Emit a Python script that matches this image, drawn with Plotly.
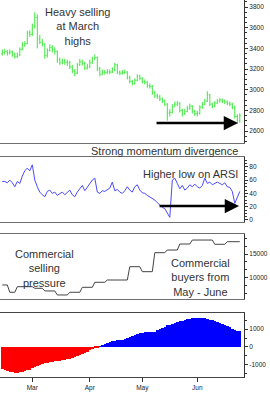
import pandas as pd
import plotly.graph_objects as go

# ---------------- data ----------------
dates = pd.bdate_range("2011-02-11", "2011-06-24")
month_labels = ["Mar", "Apr", "May", "Jun"]
month_starts = ["2011-03-01", "2011-04-01", "2011-05-02", "2011-06-01"]

price_open = [3350,3360,3370,3355,3365,3345,3320,3335,3390,3430,3445,3550,3535,3610,3700,3490,3460,3440,3330,3380,
              3410,3390,3370,3290,3260,3275,3265,3260,3220,3180,3160,3240,3270,3255,3210,3220,3260,3300,3310,3200,
              3150,3170,3165,3175,3170,3190,3240,3170,3160,3165,3170,3120,3080,3060,3090,3130,3110,3080,3070,3040,
              3030,2970,2940,2930,2910,2890,2860,2770,2780,2840,2860,2870,2800,2770,2790,2820,2840,2790,2770,2770,
              2830,2860,2890,2950,2860,2840,2870,2890,2900,2890,2880,2870,2860,2830,2740,2700]
price_high = [3390,3395,3385,3390,3380,3360,3360,3410,3460,3470,3570,3575,3640,3750,3730,3530,3490,3450,3400,3440,
              3430,3410,3380,3310,3300,3300,3290,3280,3240,3200,3260,3300,3290,3270,3250,3290,3320,3340,3320,3220,
              3195,3190,3200,3195,3215,3260,3250,3185,3190,3195,3180,3135,3095,3110,3150,3145,3120,3100,3085,3060,
              3045,2990,2960,2950,2925,2905,2870,2810,2860,2885,2890,2880,2815,2815,2845,2865,2850,2805,2795,2850,
              2880,2910,2985,2960,2875,2890,2910,2920,2915,2905,2895,2885,2875,2845,2760,2770]
price_low = [3330,3340,3330,3340,3320,3300,3305,3325,3380,3415,3440,3510,3520,3590,3400,3440,3420,3300,3310,3370,
             3360,3340,3260,3240,3245,3240,3230,3200,3160,3130,3150,3230,3235,3190,3195,3210,3250,3285,3180,3130,
             3140,3145,3150,3150,3160,3180,3150,3140,3145,3150,3100,3060,3040,3050,3080,3090,3060,3050,3020,3010,
             2950,2920,2910,2890,2870,2840,2700,2740,2770,2830,2840,2780,2740,2755,2780,2805,2770,2745,2740,2760,
             2815,2850,2880,2840,2820,2830,2860,2875,2870,2860,2850,2840,2810,2720,2670,2680]
price_close = [3360,3370,3355,3365,3345,3320,3335,3390,3430,3445,3550,3535,3610,3700,3490,3460,3440,3330,3380,3410,
               3390,3370,3290,3260,3275,3265,3260,3220,3180,3160,3240,3270,3255,3210,3220,3260,3300,3310,3200,3150,
               3170,3165,3175,3170,3190,3240,3170,3160,3165,3170,3120,3080,3060,3090,3130,3110,3080,3070,3040,3030,
               2970,2940,2930,2910,2890,2860,2770,2780,2840,2860,2870,2800,2770,2790,2820,2840,2790,2770,2770,2830,
               2860,2890,2950,2860,2840,2870,2890,2900,2890,2880,2870,2860,2830,2740,2700,2750]

arsi = [58,58,56,60,56,50,58,55,66,74,78,74,83,60,50,42,38,35,43,45,
        40,42,37,40,42,38,42,45,38,35,42,48,52,44,50,55,60,63,42,40,
        44,43,45,48,57,44,46,42,40,44,50,45,42,50,53,45,41,40,37,35,
        33,30,26,22,19,17,10,4,60,63,55,47,52,45,48,53,50,54,50,48,
        52,63,55,57,53,55,57,55,53,56,50,49,43,25,35,43]

commercial = [8460,8460,8460,6920,6920,6920,8100,8100,8100,8100,8100,8100,8100,7760,7760,7760,7760,7200,7200,7200,
              7200,7200,6350,6350,6350,6350,6350,6920,6920,6920,6920,6920,7970,7970,7970,7970,7970,9030,9030,9030,
              9030,9030,9510,9510,9510,9510,9510,9510,9510,9510,9510,12320,12320,12320,12320,12320,11270,11270,11270,11270,
              11270,15280,15280,15280,15280,15280,15840,15840,15840,15840,15840,17110,17110,17110,17110,17110,17950,17950,17950,17950,
              17950,17950,17950,17950,17950,17050,17050,17050,17050,17050,17600,17600,17600,17600,17600,17600]

histogram = [-1250,-1300,-1350,-1390,-1420,-1450,-1450,-1440,-1410,-1370,-1330,-1280,-1220,-1160,-1100,-1050,-990,-940,-900,-860,
             -830,-810,-790,-780,-770,-740,-710,-670,-630,-590,-530,-470,-420,-340,-270,-190,-120,-60,-20,30,
             90,160,210,260,300,330,350,370,390,430,470,530,580,640,700,760,790,800,800,800,
             810,850,920,1000,1060,1120,1190,1240,1290,1340,1380,1420,1460,1500,1530,1560,1590,1610,1620,1620,
             1610,1590,1560,1520,1480,1430,1380,1320,1260,1200,1140,1080,1010,950,900,870]

price_ticks = [2600, 2800, 3000, 3200, 3400, 3600, 3800]
arsi_ticks = [0, 20, 40, 60, 80]
comm_ticks = [10000, 15000]
hist_ticks = [-1000, 0, 1000]

# ---------------- figure ----------------
idx = list(range(len(dates)))
date_pos = {d.strftime("%Y-%m-%d"): i for i, d in enumerate(dates)}
tick_pos = [date_pos[m] for m in month_starts]

GREEN = "#3de83d"
FONT = "Liberation Sans, Arial, sans-serif"
TXT = "#333333"
FRAME = "#6e6e6e"

fig = go.Figure()
fig.add_trace(go.Ohlc(x=idx, open=price_open, high=price_high, low=price_low, close=price_close,
                      increasing=dict(line=dict(color=GREEN, width=1)),
                      decreasing=dict(line=dict(color=GREEN, width=1)),
                      tickwidth=0.35, xaxis="x", yaxis="y", hoverinfo="skip"))
fig.add_trace(go.Scatter(x=idx, y=arsi, mode="lines", line=dict(color="#4a4aff", width=1),
                         xaxis="x2", yaxis="y2", hoverinfo="skip"))
fig.add_trace(go.Scatter(x=idx, y=commercial, mode="lines", line=dict(color="#444444", width=1),
                         xaxis="x3", yaxis="y3", hoverinfo="skip"))
fig.add_trace(go.Bar(x=idx, y=histogram, width=1.0,
                     marker=dict(color=["#ff0000" if v < 0 else "#0000ff" for v in histogram], line=dict(width=0)),
                     xaxis="x4", yaxis="y4", hoverinfo="skip"))

xr = [-0.92, 96.68]
tickfont = dict(family=FONT, size=6.5, color="#222222")

def yax(anchor, domain, rng, minor, tickvals):
    return dict(anchor=anchor, domain=domain, range=rng, side="right",
                showgrid=False, zeroline=False, showline=True, linecolor="#333333", linewidth=1,
                ticks="outside", ticklen=3, tickcolor="#333333", tickwidth=1,
                tickfont=tickfont, automargin=False, fixedrange=True,
                tickmode="array", tickvals=tickvals, ticktext=[str(v) for v in tickvals],
                minor=dict(dtick=minor, ticks="outside", ticklen=2, tickcolor="#333333", showgrid=False))

y1 = yax("x", [0.6207, 1.0], [2484, 3868], 50, price_ticks)
y2 = yax("x2", [0.4119, 0.5836], [-2.6, 94.8], 5, arsi_ticks)
y3 = yax("x3", [0.2069, 0.3785], [5500, 19160], 5000 / 3, comm_ticks)
y4 = yax("x4", [0.0, 0.169], [-1681, 1888], 500, hist_ticks)

def xax(anchor, mirror, last=False):
    d = dict(anchor=anchor, range=xr, showgrid=False, zeroline=False, showline=True,
             linecolor=FRAME, linewidth=1, mirror=mirror, fixedrange=True, automargin=False,
             showticklabels=False, ticks="", rangeslider=dict(visible=False))
    if anchor != "y":
        d["matches"] = "x"
    if last:
        d.update(showticklabels=True, ticks="outside", ticklen=4, tickcolor="#333333",
                 tickmode="array", tickvals=tick_pos, ticktext=month_labels,
                 tickfont=dict(family=FONT, size=6.5, color="#222222"), linecolor="#444444")
    return d

fig.update_layout(
    width=270, height=395, margin=dict(l=0, r=26, t=0, b=18),
    paper_bgcolor="white", plot_bgcolor="white", showlegend=False, template="none",
    xaxis=xax("y", False), xaxis2=xax("y2", True), xaxis3=xax("y3", True), xaxis4=xax("y4", True, last=True),
    yaxis=y1, yaxis2=y2, yaxis3=y3, yaxis4=y4,
    bargap=0,
)

afont = dict(family=FONT, size=11, color=TXT)
notes = [
    ("Heavy selling<br>at March<br>highs", 0.316, 0.930, "center"),
    ("Strong momentum divergence", 0.984, 0.5995, "right"),
    ("Higher low on ARSI", 0.984, 0.5385, "right"),
    ("Commercial<br>selling<br>pressure", 0.184, 0.2883, "center"),
    ("Commercial<br>buyers from<br>May - June", 0.820, 0.2634, "center"),
]
for text, x, y, xa in notes:
    fig.add_annotation(text=text, x=x, y=y, xref="paper", yref="paper", xanchor=xa, yanchor="middle",
                       showarrow=False, font=afont, align="center")

# arrows (horizontal support lines)
fig.add_annotation(x=94.3, y=2677, ax=61.1, ay=2677, xref="x", yref="y", axref="x", ayref="y",
                   showarrow=True, arrowhead=2, arrowsize=1.1, arrowwidth=2.6, arrowcolor="black", text="")
fig.add_annotation(x=94.7, y=21, ax=62.3, ay=21, xref="x2", yref="y2", axref="x2", ayref="y2",
                   showarrow=True, arrowhead=2, arrowsize=1.1, arrowwidth=2.6, arrowcolor="black", text="")

fig.write_html("out.html", config={"displayModeBar": False})
